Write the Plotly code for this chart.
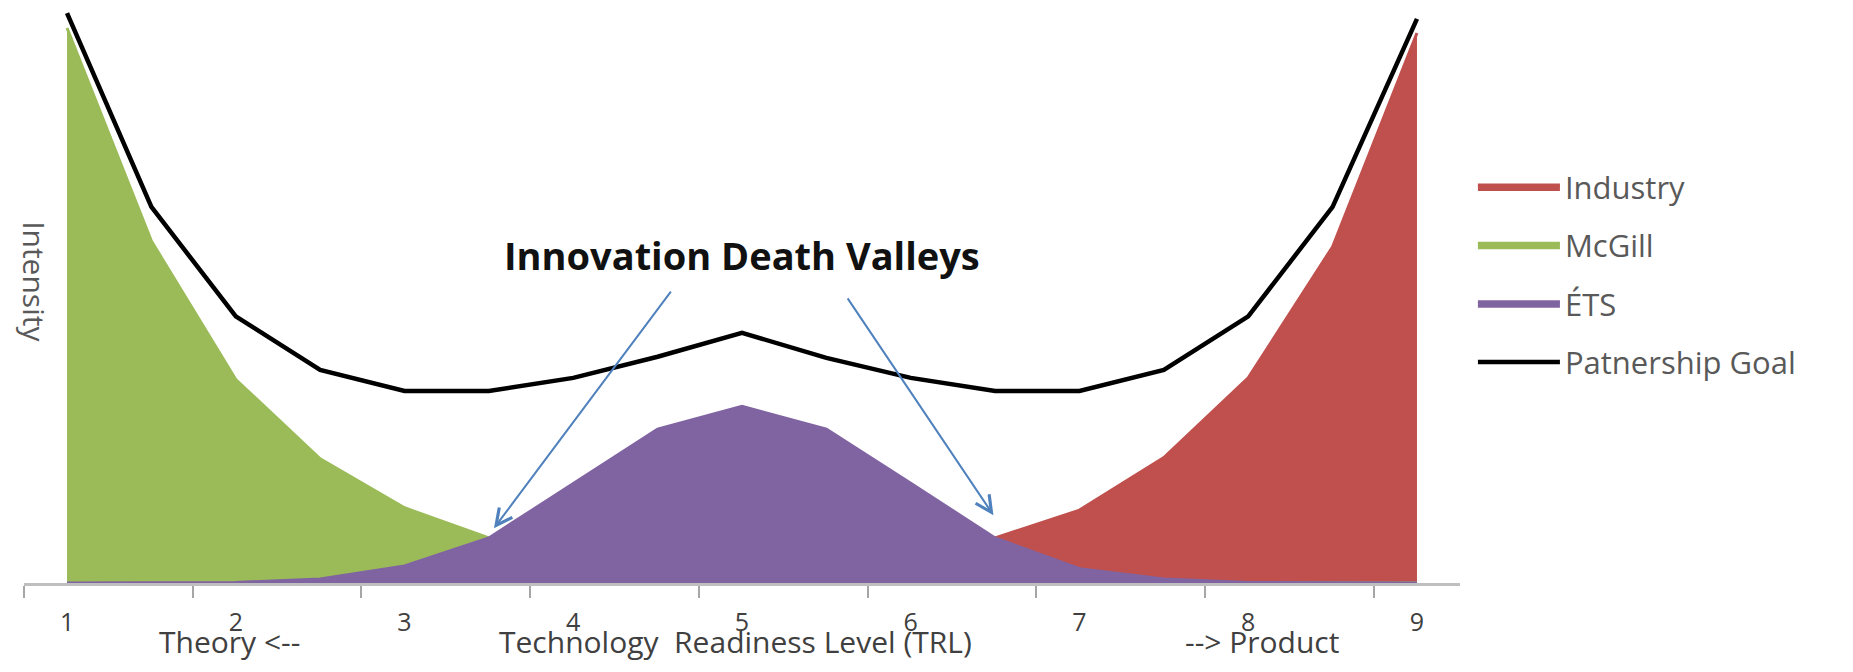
import plotly.graph_objects as go

# ---- data ----
trl_x = [1, 1.5, 2, 2.5, 3, 3.5, 4, 4.5, 5, 5.5, 6, 6.5, 7, 7.5, 8, 8.5, 9]
industry = [0, 0, 0, 0, 0, 0, 0.2, 0.5, 1.2, 2.5, 4.5, 7.9, 12.8, 22.0, 36.0, 59.0, 96.5]
mcgill = [97.4, 60.0, 35.7, 21.8, 13.2, 7.9, 4.5, 2.5, 1.2, 0.5, 0.2, 0, 0, 0, 0, 0, 0]
ets = [0, 0, 0.1, 0.7, 3.0, 7.9, 17.5, 27.0, 31.0, 27.0, 17.5, 7.9, 2.5, 0.7, 0.1, 0, 0]
goal = [100, 66, 46.8, 37.4, 33.7, 33.7, 36, 39.7, 43.9, 39.5, 36, 33.7, 33.7, 37.4, 46.8, 66, 99]

tick_levels = [1, 2, 3, 4, 5, 6, 7, 8, 9]
tick_labels = ["1", "2", "3", "4", "5", "6", "7", "8", "9"]

series_names = ["Industry", "McGill", "ÉTS", "Patnership Goal"]
colors = {"Industry": "#C0504D", "McGill": "#9BBB59", "ÉTS": "#8064A2", "Patnership Goal": "#000000"}

X_MIN, X_MAX = 0.745, 9.255
Y_MAX = 100.9
tick_marks = [X_MIN + k for k in range(9)]

FONT = "Open Sans"

fig = go.Figure()
for name, vals in zip(series_names[:3], [industry, mcgill, ets]):
    fig.add_trace(go.Scatter(
        x=trl_x, y=vals, name=name, mode="lines", fill="tozeroy",
        fillcolor=colors[name], line=dict(color=colors[name], width=3),
        legendgroup=name,
    ))
fig.add_trace(go.Scatter(
    x=trl_x, y=goal, name=series_names[3], mode="lines",
    line=dict(color=colors["Patnership Goal"], width=4.5),
    legendgroup=series_names[3], xaxis="x2",
))

title_font = dict(family=FONT, size=30, color="#404040")
TITLE_Y = -0.102
annotations = [
    dict(text="Innovation Death Valleys", x=5.0, y=57.5, xref="x", yref="y",
         showarrow=False, font=dict(family=FONT, size=38, color="#111111", weight="bold")),
    dict(text="", x=3.53, y=9.6, ax=4.585, ay=51.4, xref="x", yref="y", axref="x", ayref="y",
         showarrow=True, arrowhead=5, arrowsize=1.6, arrowwidth=2, arrowcolor="#4F81BD"),
    dict(text="", x=6.49, y=11.9, ax=5.62, ay=50.2, xref="x", yref="y", axref="x", ayref="y",
         showarrow=True, arrowhead=5, arrowsize=1.6, arrowwidth=2, arrowcolor="#4F81BD"),
    dict(text="Intensity", x=0.81, y=52.8, xref="x", yref="y", showarrow=False, textangle=90,
         font=dict(family=FONT, size=30, color="#595959")),
    dict(text="Theory <--", x=1.96, y=TITLE_Y, xref="x", yref="paper", yanchor="middle",
         showarrow=False, font=title_font),
    dict(text="Technology&nbsp;&nbsp;Readiness Level (TRL)", x=4.96, y=TITLE_Y, xref="x", yref="paper",
         yanchor="middle", showarrow=False, font=title_font),
    dict(text="--> Product", x=8.08, y=TITLE_Y, xref="x", yref="paper", yanchor="middle",
         showarrow=False, font=title_font),
]

fig.update_layout(
    width=1837, height=656, autosize=False,
    margin=dict(l=16, r=385, t=0, b=81),
    plot_bgcolor="white", paper_bgcolor="white",
    showlegend=True,
    legend=dict(x=1.009, y=0.735, xanchor="left", yanchor="top",
                traceorder="grouped", tracegroupgap=15, itemwidth=82,
                font=dict(family=FONT, size=31, color="#595959"),
                bgcolor="rgba(0,0,0,0)"),
    xaxis=dict(range=[X_MIN, X_MAX], tickvals=tick_levels, ticktext=tick_labels,
               ticks="", showline=False, showgrid=False, zeroline=False,
               ticklabelstandoff=22,
               tickfont=dict(family=FONT, size=25, color="#404040")),
    xaxis2=dict(range=[X_MIN, X_MAX], overlaying="x", anchor="y", side="bottom",
                tickvals=tick_marks, ticks="outside", ticklen=12, tickwidth=2,
                tickcolor="#A6A6A6", showticklabels=False, showline=True,
                linecolor="#BFBFBF", linewidth=3, showgrid=False, zeroline=False),
    yaxis=dict(range=[0, Y_MAX], visible=False),
    annotations=annotations,
)

fig.write_html("out.html")
